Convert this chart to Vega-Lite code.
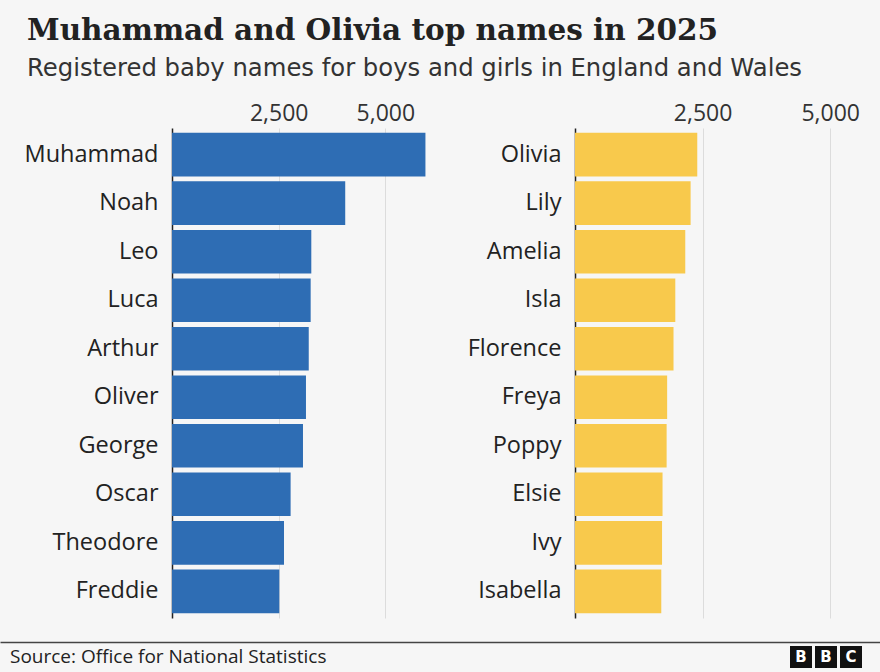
{
  "$schema": "https://vega.github.io/schema/vega-lite/v6.json",
  "background": "#f6f6f6",
  "padding": {"left": 0, "right": 0, "top": 16, "bottom": 0},
  "title": {
    "text": "Muhammad and Olivia top names in 2025",
    "subtitle": "Registered baby names for boys and girls in England and Wales",
    "anchor": "start",
    "frame": "bounds",
    "dx": 27,
    "font": "DejaVu Serif",
    "fontSize": 29.5,
    "fontWeight": "bold",
    "color": "#222222",
    "subtitleFont": "DejaVu Sans",
    "subtitleFontSize": 24.3,
    "subtitleColor": "#333333",
    "subtitlePadding": 10,
    "offset": 20
  },
  "config": {"view": {"stroke": null}, "font": "Open Sans"},
  "spacing": 24,
  "vconcat": [
    {
      "spacing": 0,
      "hconcat": [
        {
          "width": 256,
          "height": 490,
          "data": {
            "values": [
              {"name": "Muhammad", "count": 5940},
              {"name": "Noah", "count": 4060},
              {"name": "Leo", "count": 3265},
              {"name": "Luca", "count": 3250},
              {"name": "Arthur", "count": 3205},
              {"name": "Oliver", "count": 3140},
              {"name": "George", "count": 3070},
              {"name": "Oscar", "count": 2780},
              {"name": "Theodore", "count": 2625},
              {"name": "Freddie", "count": 2515}
            ]
          },
          "mark": {"type": "bar", "color": "#2e6db4"},
          "encoding": {
            "y": {
              "field": "name",
              "type": "nominal",
              "sort": null,
              "scale": {"paddingInner": 0.1, "paddingOuter": 0.1},
              "axis": {
                "title": null,
                "ticks": false,
                "domainColor": "#222222",
                "domainWidth": 1.5,
                "labelFontSize": 23.5,
                "labelColor": "#222222",
                "labelPadding": 14,
                "minExtent": 172,
                "maxExtent": 172
              }
            },
            "x": {
              "field": "count",
              "type": "quantitative",
              "scale": {"domain": [0, 6000], "nice": false},
              "axis": {
                "orient": "top",
                "values": [2500, 5000],
                "format": ",.0f",
                "title": null,
                "domain": false,
                "ticks": false,
                "labelFontSize": 23,
                "labelColor": "#333333",
                "labelPadding": 3,
                "gridColor": "#dcdcdc"
              }
            }
          }
        },
        {
          "width": 268,
          "height": 490,
          "data": {
            "values": [
              {"name": "Olivia", "count": 2395},
              {"name": "Lily", "count": 2265},
              {"name": "Amelia", "count": 2160},
              {"name": "Isla", "count": 1965},
              {"name": "Florence", "count": 1930},
              {"name": "Freya", "count": 1805},
              {"name": "Poppy", "count": 1795},
              {"name": "Elsie", "count": 1715},
              {"name": "Ivy", "count": 1705},
              {"name": "Isabella", "count": 1690}
            ]
          },
          "mark": {"type": "bar", "color": "#f8c94c"},
          "encoding": {
            "y": {
              "field": "name",
              "type": "nominal",
              "sort": null,
              "scale": {"paddingInner": 0.1, "paddingOuter": 0.1},
              "axis": {
                "title": null,
                "ticks": false,
                "domainColor": "#222222",
                "domainWidth": 1.5,
                "labelFontSize": 23.5,
                "labelColor": "#222222",
                "labelPadding": 14,
                "minExtent": 147,
                "maxExtent": 147
              }
            },
            "x": {
              "field": "count",
              "type": "quantitative",
              "scale": {"domain": [0, 5250], "nice": false},
              "axis": {
                "orient": "top",
                "values": [2500, 5000],
                "format": ",.0f",
                "title": null,
                "domain": false,
                "ticks": false,
                "labelFontSize": 23,
                "labelColor": "#333333",
                "labelPadding": 3,
                "gridColor": "#dcdcdc"
              }
            }
          }
        }
      ]
    },
    {
      "width": 708,
      "height": 30,
      "title": {
        "text": "Source: Office for National Statistics",
        "orient": "bottom",
        "anchor": "start",
        "frame": "group",
        "offset": -24,
        "dx": -162,
        "font": "Open Sans",
        "fontSize": 19,
        "fontWeight": "normal",
        "color": "#222222"
      },
      "data": {
        "values": [
          {"letter": "B", "i": 1},
          {"letter": "B", "i": 2},
          {"letter": "C", "i": 3}
        ]
      },
      "encoding": {
        "x": {
          "field": "i",
          "type": "quantitative",
          "scale": {"domain": [-31.04, 4.16], "range": [-172, 708], "nice": false, "zero": false},
          "axis": {
            "orient": "top",
            "title": null,
            "labels": false,
            "ticks": false,
            "grid": false,
            "domainColor": "#444444",
            "domainWidth": 1.5
          }
        }
      },
      "layer": [
        {"mark": {"type": "square", "size": 484, "color": "#111111", "opacity": 1}},
        {
          "mark": {"type": "text", "color": "#ffffff", "fontSize": 15, "fontWeight": "bold", "font": "DejaVu Sans"},
          "encoding": {"text": {"field": "letter"}}
        }
      ]
    }
  ]
}
